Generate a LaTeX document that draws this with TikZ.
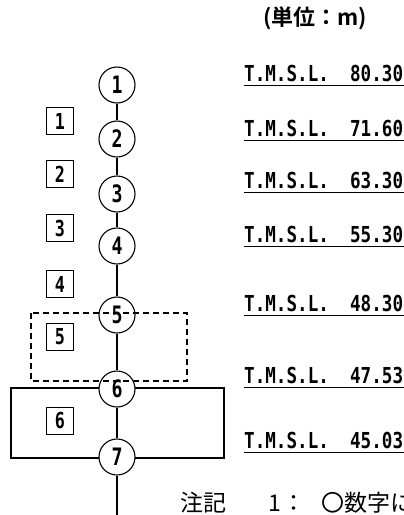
\documentclass[tikz,border=0pt]{standalone}
\usepackage{fontspec}
\newfontfamily\lvlfont{DejaVu Sans Mono}[FakeStretch=0.8]
\newfontfamily\digfont{DejaVu Sans Mono}[FakeStretch=0.76]
\newfontfamily\jpfont{Noto Sans CJK JP}[BoldFont={Noto Sans CJK JP Bold}]
\begin{document}
\begin{tikzpicture}[x=1pt,y=-1pt,
  pt/.style={circle, draw, fill=white, line width=1.1pt, minimum size=36pt, inner sep=0pt, font=\digfont\bfseries\fontsize{24}{24}\selectfont},
  sect/.style={draw, line width=0.8pt, minimum size=27pt, inner sep=0pt, font=\digfont\bfseries\fontsize{22}{22}\selectfont},
  lvl/.style={anchor=base west, inner sep=0pt, font=\lvlfont\bfseries\fontsize{22}{22}\selectfont},
  uline/.style={line width=1pt},
  conn/.style={line width=1.2pt},
  zone/.style={line width=1.2pt},
  dzone/.style={line width=1.2pt, dash pattern=on 6pt off 4pt}]
\useasboundingbox (0,0) rectangle (404,515);
% solid region
\draw[zone] (11,388) rectangle (224,458);
% circles
\node[pt] (c1) at (117,85) {1};
\node[pt] (c2) at (117,139) {2};
\node[pt] (c3) at (117,194) {3};
\node[pt] (c4) at (117,246) {4};
\node[pt] (c5) at (117,315) {5};
\node[pt] (c6) at (117,389) {6};
\node[pt] (c7) at (117,457) {7};
\coordinate (bot) at (117,515);
\draw[conn] (c1) -- (c2) -- (c3) -- (c4) -- (c5) -- (c6) -- (c7) -- (bot);
% dashed region
\draw[dzone] (31,313) rectangle (187,381);
% section squares
\node[sect] (s1) at (60,121) {1};
\node[sect] (s2) at (60,174) {2};
\node[sect] (s3) at (60,228) {3};
\node[sect] (s4) at (60,284) {4};
\node[sect] (s5) at (60,337) {5};
\node[sect] (s6) at (60,421) {6};
% unit
\node[font=\jpfont\bfseries\fontsize{22}{22}\selectfont, inner sep=0pt] (unit) at (315,18) {(単位：m)};
% levels
\node[lvl] (l1) at (244,81) {T.M.S.L.\ \ 80.30};
\node[lvl] (l2) at (244,136) {T.M.S.L.\ \ 71.60};
\node[lvl] (l3) at (244,188) {T.M.S.L.\ \ 63.30};
\node[lvl] (l4) at (244,242) {T.M.S.L.\ \ 55.30};
\node[lvl] (l5) at (244,311) {T.M.S.L.\ \ 48.30};
\node[lvl] (l6) at (244,383) {T.M.S.L.\ \ 47.53};
\node[lvl] (l7) at (244,448) {T.M.S.L.\ \ 45.03};
\foreach \n in {l1,l2,l3,l4,l5,l6,l7}
  \draw[uline] ([yshift=-4pt]\n.base west) -- ++(162,0);
% note
\node[anchor=base west, inner sep=0pt, font=\jpfont\fontsize{23}{23}\selectfont] (note) at (180,511) {注記\hspace{42pt}1\hspace{2pt}：\hspace{16pt}〇数字に};
\end{tikzpicture}
\end{document}
